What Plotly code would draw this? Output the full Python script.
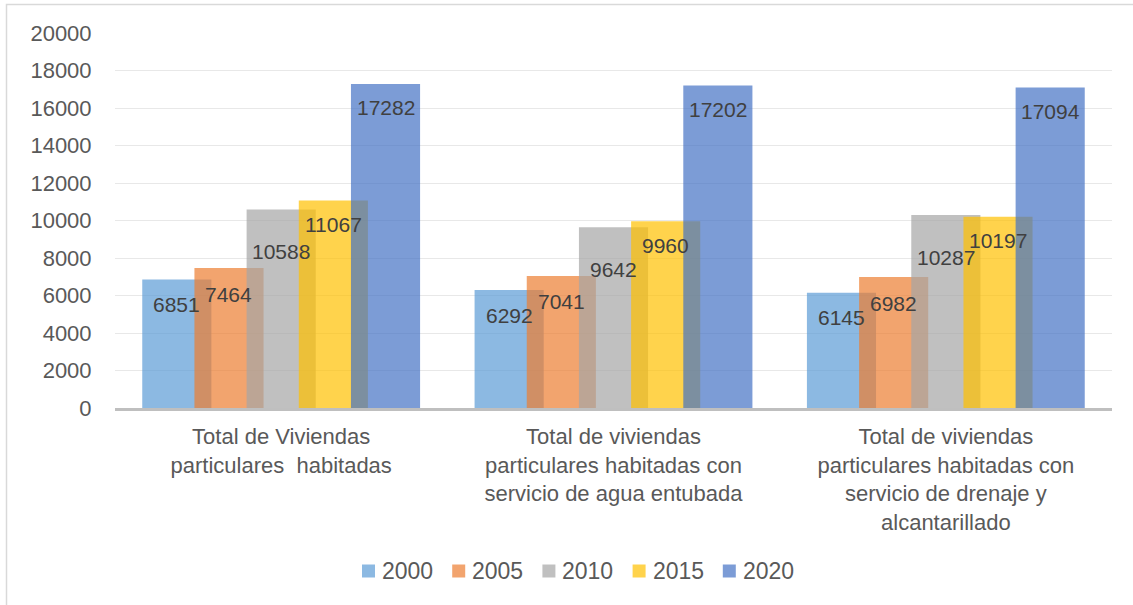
import plotly.graph_objects as go

# Viviendas particulares habitadas por año censal
categories = [
    "Total de Viviendas<br>particulares  habitadas",
    "Total de viviendas<br>particulares habitadas con<br>servicio de agua entubada",
    "Total de viviendas<br>particulares habitadas con<br>servicio de drenaje y<br>alcantarillado",
]
years = ["2000", "2005", "2010", "2015", "2020"]
v2000 = [6851, 6292, 6145]
v2005 = [7464, 7041, 6982]
v2010 = [10588, 9642, 10287]
v2015 = [11067, 9960, 10197]
v2020 = [17282, 17202, 17094]
series = [v2000, v2005, v2010, v2015, v2020]
y_ticks = [0, 2000, 4000, 6000, 8000, 10000, 12000, 14000, 16000, 18000, 20000]

colors = [
    "rgba(91,155,213,0.7)",
    "rgba(237,125,49,0.7)",
    "rgba(165,165,165,0.7)",
    "rgba(255,192,0,0.7)",
    "rgba(68,114,196,0.7)",
]
FONT = "Liberation Sans, Arial, sans-serif"

W, H = 1133, 605
ML, MR, MT, MB = 115, 21, 33, 197
PW, PH = W - ML - MR, H - MT - MB

bar_w = 0.208   # bar width in category units (bars overlap)
step = 0.157    # distance between neighbouring bar centres
label_drop = [-25, -26, -42, -24, -24]

# pixel -> paper coordinate helpers
px_to_x = lambda p: (p - ML) / PW
px_to_y = lambda p: (H - MB - p) / PH

xs = list(range(len(categories)))
fig = go.Figure()
annotations = []
shapes = []
for k, (yr, vals, col) in enumerate(zip(years, series, colors)):
    centre = (k - 2) * step
    fig.add_trace(go.Bar(
        name=yr, x=xs, y=vals,
        width=bar_w, offset=centre - bar_w / 2,
        marker=dict(color=col, line=dict(width=0)),
        showlegend=False,
    ))
    for i, v in enumerate(vals):
        annotations.append(dict(
            x=i + centre, y=v, xref="x", yref="y",
            text=str(v), showarrow=False, yshift=label_drop[k],
            font=dict(family=FONT, size=21, color="#404040"),
        ))

# legend row: swatch + year label
leg_x0, leg_dx, leg_y = 362, 90.2, 571
for k, (yr, col) in enumerate(zip(years, colors)):
    sx = leg_x0 + k * leg_dx
    shapes.append(dict(
        type="rect", xref="paper", yref="paper",
        x0=px_to_x(sx), x1=px_to_x(sx + 13),
        y0=px_to_y(leg_y + 6.5), y1=px_to_y(leg_y - 6.5),
        line=dict(width=0), fillcolor=col,
    ))
    annotations.append(dict(
        x=px_to_x(sx + 18), y=px_to_y(leg_y), xref="paper", yref="paper",
        xanchor="left", yanchor="middle", text=yr, showarrow=False,
        font=dict(family=FONT, size=23, color="#595959"),
    ))

# outer chart frame
shapes.append(dict(
    type="rect", xref="paper", yref="paper",
    x0=px_to_x(6.5), x1=px_to_x(W + 20), y0=px_to_y(H + 20), y1=px_to_y(4.5),
    line=dict(color="#d9d9d9", width=1.5), fillcolor="rgba(0,0,0,0)", layer="below",
))

fig.update_layout(
    width=W, height=H,
    margin=dict(l=ML, r=MR, t=MT, b=MB, autoexpand=False),
    barmode="overlay",
    showlegend=False,
    paper_bgcolor="white", plot_bgcolor="white",
    font=dict(family=FONT, size=22, color="#595959"),
    annotations=annotations,
    shapes=shapes,
    xaxis=dict(
        range=[-0.5, 2.5], tickmode="array", tickvals=xs, ticktext=categories,
        showgrid=False, zeroline=False,
        showline=True, linecolor="#bfbfbf", linewidth=2.5,
        ticks="outside", ticklen=7, tickcolor="rgba(0,0,0,0)",
        tickfont=dict(size=22, color="#595959"),
    ),
    yaxis=dict(
        range=[0, 20000], tickmode="array", tickvals=y_ticks,
        ticktext=[str(t) for t in y_ticks],
        showgrid=True, gridcolor="#e8e8e8", gridwidth=1.2,
        zeroline=False, showline=False,
        ticks="outside", ticklen=18, tickcolor="rgba(0,0,0,0)",
        tickfont=dict(size=22, color="#595959"),
    ),
)

fig.write_html("out.html")
